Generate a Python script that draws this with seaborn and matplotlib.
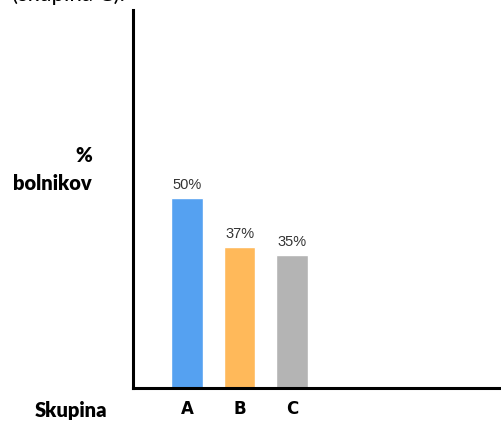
import matplotlib
matplotlib.use("Agg")
import matplotlib.pyplot as plt
import seaborn as sns
import pandas as pd

categories = ["A", "B", "C"]
values = [50, 37, 35]
value_labels = ["50%", "37%", "35%"]
colors = ["#55A1F1", "#FFB95A", "#B4B4B4"]

sns.set_style("white")
plt.rcParams['font.family'] = ['Lato', 'DejaVu Sans']

df = pd.DataFrame({"Skupina": categories, "pct": values})

fig = plt.figure(figsize=(5.01, 4.21), dpi=100)
ax = fig.add_axes([133 / 501, 33 / 421, 1 - 133 / 501, (388 - 10) / 421])

sns.barplot(data=df, x="Skupina", y="pct", hue="Skupina", palette=colors,
            width=0.6, legend=False, ax=ax, saturation=1)

ax.set_ylim(0, 99.5)
ax.set_xlim(-1.03, 5.98)
ax.set_xlabel("")
ax.set_ylabel("")
ax.set_yticks([])
ax.tick_params(axis="x", length=0, pad=9)
for lbl in ax.get_xticklabels():
    lbl.set_fontweight("bold")
    lbl.set_fontsize(12)
    lbl.set_color("black")
    lbl.set_family(["DejaVu Sans"])

for s in ["top", "right"]:
    ax.spines[s].set_visible(False)
for s in ["left", "bottom"]:
    ax.spines[s].set_linewidth(2.2)
    ax.spines[s].set_color("black")

for i, (v, t) in enumerate(zip(values, value_labels)):
    ax.text(i, v + 1.6, t, ha="center", va="bottom", fontsize=10.5,
            color="#333333", family=["Liberation Sans", "DejaVu Sans"])

fig.text(107 / 501, 1 - 410 / 421, "Skupina", ha="right", va="center",
         fontsize=14.5, fontweight="heavy", color="black")
fig.text(92 / 501, 1 - 156 / 421, "%", ha="right", va="center",
         fontsize=14.5, fontweight="heavy", color="black")
fig.text(92 / 501, 1 - 184 / 421, "bolnikov", ha="right", va="center",
         fontsize=14.5, fontweight="heavy", color="black")
fig.text(12 / 501, 1 - (-5) / 421, "(skupina C).", ha="left", va="center",
         fontsize=16, color="black")

fig.savefig("out.png", dpi=100)
